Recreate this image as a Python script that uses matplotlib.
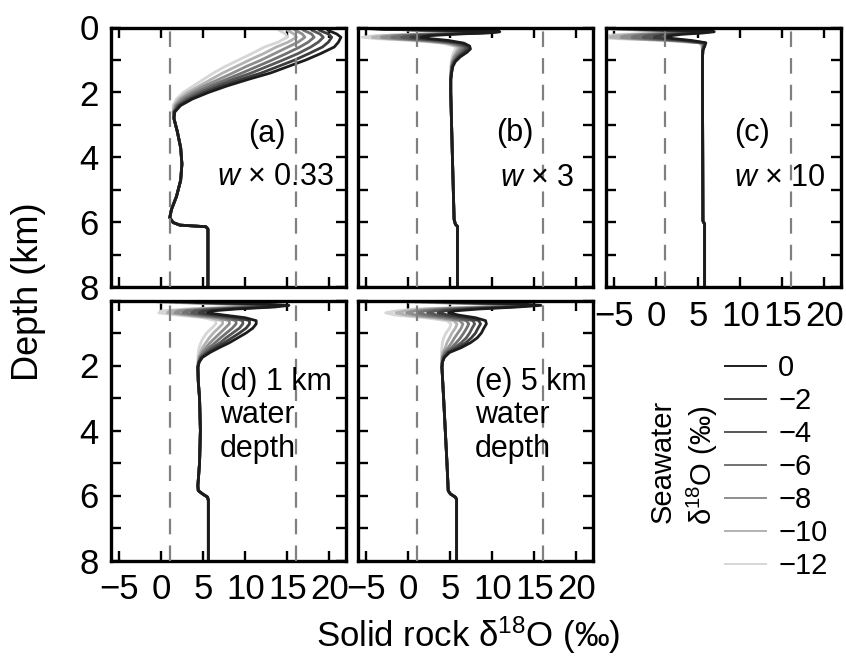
import matplotlib
matplotlib.use("Agg")
import matplotlib.pyplot as plt
from matplotlib.lines import Line2D

plt.rcParams['font.family'] = ['Liberation Sans', 'DejaVu Sans']
plt.rcParams['mathtext.fontset'] = 'custom'
plt.rcParams['mathtext.rm'] = 'Liberation Sans'
plt.rcParams['mathtext.it'] = 'Liberation Sans:italic'
plt.rcParams['axes.unicode_minus'] = True

# ---------------- data ----------------
seawater_labels = ['0', '\u22122', '\u22124', '\u22126', '\u22128', '\u221210', '\u221212']
curve_colors = ['#1c1c1c', '#3c3c3c', '#575757', '#727272', '#8e8e8e', '#b2b2b2', '#d6d6d6']
x_ticks = [-5, 0, 5, 10, 15, 20]
y_ticks = [0, 1, 2, 3, 4, 5, 6, 7, 8]
ref_lines = [1, 16]

# (a) w x 0.33
depth_a = [0.08, 0.2, 0.3, 0.45, 0.6, 0.8, 1.0, 1.2, 1.4, 1.6, 1.8, 2.0, 2.2, 2.4, 2.6]
delta_a = [
    [19.8, 20.9, 21.4, 21.1, 20.6, 19.0, 17.2, 15.1, 13.0, 10.3, 7.8, 5.6, 3.7, 2.3, 1.6],
    [18.8, 19.9, 20.3, 19.9, 19.2, 17.6, 15.9, 13.9, 11.9, 9.4, 7.1, 5.1, 3.4, 2.15, 1.55],
    [17.9, 18.9, 19.3, 18.7, 17.8, 16.3, 14.5, 12.6, 10.7, 8.5, 6.5, 4.6, 3.1, 2.0, 1.5],
    [16.9, 17.9, 18.2, 17.5, 16.5, 14.9, 13.2, 11.4, 9.6, 7.7, 5.8, 4.1, 2.75, 1.85, 1.5],
    [15.9, 16.8, 17.1, 16.3, 15.1, 13.5, 11.9, 10.1, 8.5, 6.8, 5.1, 3.6, 2.4, 1.7, 1.45],
    [15.0, 15.8, 16.1, 15.1, 13.7, 12.2, 10.5, 8.9, 7.3, 5.9, 4.5, 3.1, 2.1, 1.55, 1.4],
    [14.0, 14.8, 15.0, 13.9, 12.3, 10.8, 9.2, 7.6, 6.2, 5.0, 3.8, 2.6, 1.8, 1.4, 1.4],
]
deep_depth_a = [2.8, 3.2, 3.7, 4.2, 4.7, 5.2, 5.6, 5.85, 6.0, 6.08, 6.13, 6.2, 8.0]
deep_delta_a = [1.5, 1.9, 2.3, 2.45, 2.3, 1.8, 1.2, 1.0, 1.4, 2.2, 5.3, 5.55, 5.55]

# (b) w x 3
depth_b = [0.05, 0.09, 0.13, 0.16, 0.2, 0.25, 0.3, 0.34, 0.4, 0.48, 0.57, 0.66, 0.76, 0.9, 1.05, 1.2, 1.4, 1.6]
delta_b = [
    [-3.0, 5.0, 10.9, 10.0, 6.0, 2.5, 1.5, 2.5, 4.8, 6.6, 7.3, 7.4, 7.0, 6.2, 5.6, 5.3, 5.15, 5.05],
    [-3.25, 4.75, 10.6, 9.6, 5.2, 1.4, 0.3, 1.4, 4.1, 6.2, 7.0, 7.1, 6.7, 6.0, 5.5, 5.25, 5.15, 5.05],
    [-3.5, 4.5, 10.3, 9.2, 4.3, 0.3, -0.8, 0.3, 3.4, 5.7, 6.7, 6.8, 6.5, 5.9, 5.45, 5.2, 5.1, 5.05],
    [-3.75, 4.25, 9.95, 8.75, 3.5, -0.75, -2.0, -0.75, 2.65, 5.3, 6.4, 6.5, 6.2, 5.7, 5.35, 5.2, 5.1, 5.05],
    [-4.0, 4.0, 9.6, 8.3, 2.7, -1.8, -3.2, -1.8, 1.9, 4.9, 6.1, 6.2, 5.9, 5.5, 5.25, 5.15, 5.1, 5.05],
    [-4.25, 3.75, 9.3, 7.9, 1.8, -2.9, -4.3, -2.9, 1.2, 4.4, 5.8, 5.9, 5.7, 5.4, 5.2, 5.1, 5.05, 5.05],
    [-4.5, 3.5, 9.0, 7.5, 1.0, -4.0, -5.5, -4.0, 0.5, 4.0, 5.5, 5.6, 5.4, 5.2, 5.1, 5.05, 5.05, 5.05],
]
deep_depth_b = [2.0, 4.0, 5.9, 6.05, 6.12, 8.0]
deep_delta_b = [5.05, 5.25, 5.45, 5.6, 5.85, 5.85]

# (c) w x 10
depth_c = [0.05, 0.09, 0.13, 0.17, 0.21, 0.26, 0.3, 0.34, 0.4, 0.47, 0.55, 0.7, 0.9]
delta_c = [
    [-2.0, 3.0, 6.9, 5.5, 3.0, 1.5, 1.0, 2.0, 4.2, 5.9, 5.8, 5.55, 5.5],
    [-2.6, 2.3, 6.5, 4.8, 1.8, 0.2, -0.3, 0.8, 3.7, 5.75, 5.75, 5.55, 5.5],
    [-3.3, 1.7, 6.1, 4.2, 0.7, -1.2, -1.6, -0.3, 3.1, 5.6, 5.7, 5.55, 5.5],
    [-3.9, 1.0, 5.7, 3.5, -0.5, -2.5, -2.9, -1.5, 2.6, 5.45, 5.6, 5.5, 5.5],
    [-4.5, 0.3, 5.3, 2.8, -1.7, -3.8, -4.2, -2.7, 2.1, 5.3, 5.55, 5.5, 5.5],
    [-5.2, -0.3, 4.9, 2.2, -2.8, -5.2, -5.5, -3.8, 1.5, 5.15, 5.45, 5.5, 5.5],
    [-5.8, -1.0, 4.5, 1.5, -4.0, -6.5, -6.8, -5.0, 1.0, 5.0, 5.4, 5.5, 5.5],
]
deep_depth_c = [2.0, 5.95, 6.05, 8.0]
deep_delta_c = [5.5, 5.55, 5.75, 5.75]

# (d) 1 km water depth
depth_d = [0.05, 0.1, 0.15, 0.2, 0.26, 0.32, 0.38, 0.45, 0.53, 0.62, 0.72, 0.85, 1.0, 1.15, 1.3, 1.45, 1.6, 1.75, 1.9, 2.05]
delta_d = [
    [4.0, 11.0, 15.2, 13.5, 9.0, 6.0, 5.5, 7.5, 10.0, 11.3, 11.3, 10.9, 10.1, 9.1, 8.1, 6.9, 5.8, 4.9, 4.5, 4.35],
    [3.25, 10.2, 14.6, 12.75, 8.0, 5.0, 4.5, 6.6, 9.2, 10.5, 10.5, 10.1, 9.3, 8.4, 7.5, 6.5, 5.55, 4.8, 4.5, 4.35],
    [2.5, 9.3, 14.0, 12.0, 7.0, 4.0, 3.6, 5.7, 8.3, 9.7, 9.7, 9.3, 8.5, 7.7, 7.0, 6.1, 5.35, 4.7, 4.45, 4.35],
    [1.75, 8.5, 13.35, 11.25, 6.0, 3.0, 2.6, 4.75, 7.5, 8.9, 8.9, 8.45, 7.75, 7.05, 6.4, 5.7, 5.1, 4.6, 4.45, 4.35],
    [1.0, 7.7, 12.7, 10.5, 5.0, 2.0, 1.6, 3.8, 6.7, 8.1, 8.1, 7.6, 7.0, 6.4, 5.8, 5.3, 4.85, 4.55, 4.4, 4.35],
    [0.25, 6.8, 12.1, 9.75, 4.0, 1.0, 0.7, 2.9, 5.8, 7.3, 7.3, 6.8, 6.2, 5.7, 5.3, 4.9, 4.65, 4.45, 4.4, 4.35],
    [-0.5, 6.0, 11.5, 9.0, 3.0, 0.0, -0.3, 2.0, 5.0, 6.5, 6.5, 6.0, 5.4, 5.0, 4.7, 4.5, 4.4, 4.35, 4.35, 4.35],
]
deep_depth_d = [2.5, 3.0, 4.0, 5.0, 5.7, 5.85, 5.95, 6.05, 6.15, 8.0]
deep_delta_d = [4.4, 4.55, 4.65, 4.55, 4.35, 4.4, 4.9, 5.5, 5.6, 5.6]

# (e) 5 km water depth
depth_e = [0.05, 0.1, 0.15, 0.2, 0.26, 0.32, 0.38, 0.45, 0.53, 0.62, 0.72, 0.85, 1.0, 1.15, 1.3, 1.45, 1.6, 1.75, 1.9, 2.05]
delta_e = [
    [5.0, 13.0, 15.8, 13.0, 8.5, 5.5, 4.8, 6.0, 8.0, 9.2, 9.3, 9.0, 8.7, 8.2, 7.4, 6.3, 4.9, 4.3, 4.05, 4.0],
    [4.2, 12.2, 15.1, 12.2, 7.25, 4.3, 3.55, 4.75, 7.0, 8.4, 8.6, 8.3, 8.0, 7.5, 6.85, 5.9, 4.75, 4.25, 4.05, 4.0],
    [3.3, 11.3, 14.4, 11.3, 6.0, 3.2, 2.3, 3.5, 6.0, 7.7, 7.9, 7.6, 7.3, 6.9, 6.3, 5.5, 4.6, 4.2, 4.05, 4.0],
    [2.5, 10.5, 13.65, 10.5, 4.75, 2.0, 1.05, 2.25, 5.0, 6.9, 7.2, 6.95, 6.6, 6.2, 5.7, 5.15, 4.4, 4.1, 4.05, 4.0],
    [1.7, 9.7, 12.9, 9.7, 3.5, 0.8, -0.2, 1.0, 4.0, 6.1, 6.5, 6.3, 5.9, 5.5, 5.15, 4.75, 4.25, 4.05, 4.0, 4.0],
    [0.8, 8.8, 12.2, 8.8, 2.25, -0.3, -1.45, -0.25, 3.0, 5.4, 5.8, 5.6, 5.2, 4.9, 4.6, 4.4, 4.1, 4.0, 4.0, 4.0],
    [0.0, 8.0, 11.5, 8.0, 1.0, -1.5, -2.7, -1.5, 2.0, 4.6, 5.1, 4.9, 4.5, 4.2, 4.05, 4.0, 3.95, 3.95, 4.0, 4.0],
]
deep_depth_e = [3.0, 4.0, 5.0, 5.85, 5.95, 6.05, 6.12, 8.0]
deep_delta_e = [4.2, 4.4, 4.6, 4.75, 5.0, 5.6, 5.75, 5.75]

# ---------------- figure ----------------
fig = plt.figure(figsize=(8.46, 6.57), dpi=100)
W, Hh = 846.0, 657.0

def rect(x0, x1, y0, y1):
    return [x0 / W, 1 - y1 / Hh, (x1 - x0) / W, (y1 - y0) / Hh]

ax_a = fig.add_axes(rect(111, 346, 27.5, 287.5))
ax_b = fig.add_axes(rect(358, 593, 27.5, 287.5))
ax_c = fig.add_axes(rect(606, 841, 27.5, 287.5))
ax_d = fig.add_axes(rect(111, 346, 300.5, 560.5))
ax_e = fig.add_axes(rect(358, 593, 300.5, 560.5))

panels = [
    (ax_a, depth_a, delta_a, deep_depth_a, deep_delta_a),
    (ax_b, depth_b, delta_b, deep_depth_b, deep_delta_b),
    (ax_c, depth_c, delta_c, deep_depth_c, deep_delta_c),
    (ax_d, depth_d, delta_d, deep_depth_d, deep_delta_d),
    (ax_e, depth_e, delta_e, deep_depth_e, deep_delta_e),
]

TICK_FS = 25
for ax, dep, dels, ddep, ddel in panels:
    for i in reversed(range(len(dels))):
        ax.plot(dels[i] + ddel, dep + ddep, color=curve_colors[i], lw=2.0,
                solid_capstyle='round', solid_joinstyle='round', zorder=2)
    for v in ref_lines:
        ax.axvline(v, color='#808080', lw=1.6, dashes=(7, 5), zorder=3)
    ax.set_xlim(-6, 22)
    ax.set_ylim(8, 0)
    ax.set_xticks(x_ticks)
    ax.set_yticks(y_ticks)
    ax.tick_params(direction='in', top=True, right=True, length=7.5, width=1.7,
                   labelsize=TICK_FS, labelbottom=False, labelleft=False, pad=9)
    for s in ax.spines.values():
        s.set_linewidth(2.4)

even_labels = [str(t) if t % 2 == 0 else '' for t in y_ticks]
ax_a.tick_params(labelleft=True)
ax_a.set_yticklabels(even_labels)
ax_d.tick_params(labelleft=True)
ax_d.set_yticklabels([''] + even_labels[1:])
for ax in (ax_c, ax_d, ax_e):
    ax.tick_params(labelbottom=True, pad=9)
    ax.set_xticklabels(['\u22125', '0', '5', '10', '15', '20'])

PFS = 22
ax_a.text(0.664, 0.59, '(a)', transform=ax_a.transAxes, ha='center', va='center', fontsize=PFS)
ax_a.text(0.698, 0.425, '$w$ \u00d7 0.33', transform=ax_a.transAxes, ha='center', va='center', fontsize=PFS)
ax_b.text(0.668, 0.595, '(b)', transform=ax_b.transAxes, ha='center', va='center', fontsize=PFS)
ax_b.text(0.762, 0.421, '$w$ \u00d7 3', transform=ax_b.transAxes, ha='center', va='center', fontsize=PFS)
ax_c.text(0.621, 0.595, '(c)', transform=ax_c.transAxes, ha='center', va='center', fontsize=PFS)
ax_c.text(0.740, 0.421, '$w$ \u00d7 10', transform=ax_c.transAxes, ha='center', va='center', fontsize=PFS)
ax_d.text(0.464, 0.559, '(d) 1 km\nwater\ndepth', transform=ax_d.transAxes, ha='left', va='center',
          fontsize=PFS, linespacing=1.15)
ax_e.text(0.498, 0.559, '(e) 5 km\nwater\ndepth', transform=ax_e.transAxes, ha='left', va='center',
          fontsize=PFS, linespacing=1.15)

fig.text(28 / W, 1 - 292 / Hh, 'Depth (km)', rotation=90, ha='center', va='center', fontsize=26)
fig.text(468 / W, 1 - 635 / Hh, 'Solid rock \u03b4$^{18}$O (\u2030)', ha='center', va='center', fontsize=25)

handles = [Line2D([], [], color=c, lw=1.4) for c in curve_colors]
fig.legend(handles, seawater_labels, loc='upper left', bbox_to_anchor=(725 / W, 1 - 354 / Hh),
           frameon=False, fontsize=21, handlelength=1.4, handletextpad=0.42,
           labelspacing=0.17, borderpad=0, borderaxespad=0)
fig.text(663 / W, 1 - 461 / Hh, 'Seawater', rotation=90, ha='center', va='center', fontsize=21)
fig.text(702 / W, 1 - 465 / Hh, '\u03b4$^{18}$O (\u2030)', rotation=90, ha='center', va='center', fontsize=21)

fig.savefig('out.png', dpi=100)
